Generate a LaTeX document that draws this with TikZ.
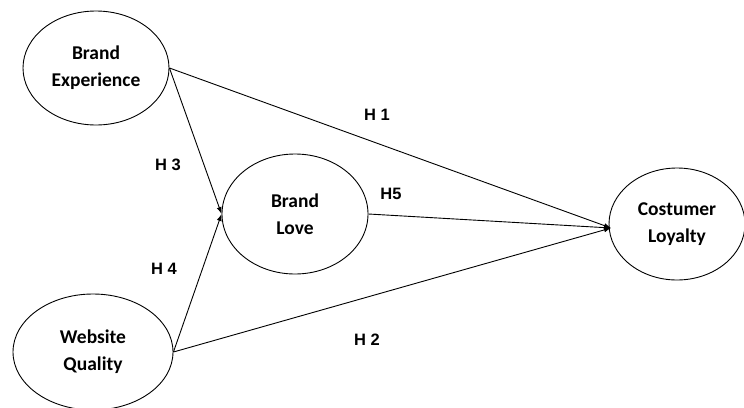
\documentclass[tikz,border=0pt]{standalone}
\usepackage{fontspec}
\setmainfont{Carlito}
\newfontfamily\labelfont{Liberation Sans}
\usetikzlibrary{shapes.geometric,arrows.meta}
\tikzset{
  construct/.style={ellipse, draw=black, line width=0.9pt, inner sep=0pt,
    align=center, font=\fontsize{19.5}{27}\selectfont\bfseries},
  path/.style={draw=black, line width=0.9pt, -{Latex[length=7pt,width=5pt]}},
  hyp/.style={font=\labelfont\fontsize{16.5}{19}\selectfont\bfseries, inner sep=0pt}
}
\begin{document}
\begin{tikzpicture}[x=1pt,y=-1pt]
  \useasboundingbox (0,0) rectangle (744,407);
  % latent constructs
  \node[construct, minimum width=146pt, minimum height=114pt] (BE) at (96,68) {Brand\\Experience};
  \node[construct, minimum width=146pt, minimum height=120pt] (BL) at (295,214) {Brand\\Love};
  \node[construct, minimum width=136pt, minimum height=112pt] (CL) at (677,224) {Costumer\\Loyalty};
  \node[construct, minimum width=160pt, minimum height=116pt] (WQ) at (93,352) {Website\\Quality};
  % common arrow entry on the outcome construct
  \coordinate (clin) at (611,228);
  % hypothesised paths
  \draw[path] (BE.east) -- (clin);
  \draw[path] (BE.east) -- (BL.west);
  \draw[path] (WQ.east) -- (BL.west);
  \draw[path] (WQ.east) -- (clin);
  \draw[path] (BL.east) -- (clin);
  % hypothesis labels
  \node[hyp] (h1) at (377,115) {H 1};
  \node[hyp] (h3) at (168,165) {H 3};
  \node[hyp] (h5) at (391,194) {H5};
  \node[hyp] (h4) at (164,269) {H 4};
  \node[hyp] (h2) at (367,340) {H 2};
\end{tikzpicture}
\end{document}
